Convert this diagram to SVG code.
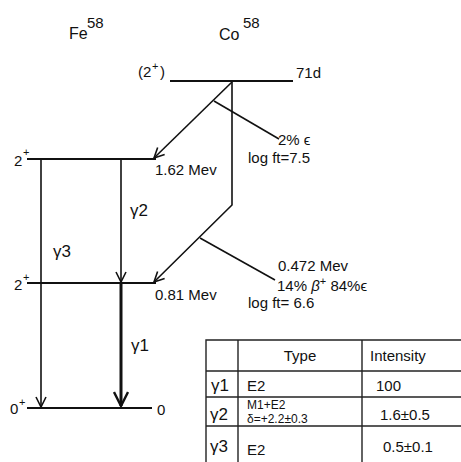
<svg xmlns="http://www.w3.org/2000/svg" width="461" height="462" viewBox="0 0 461 462">
<defs>
<style>
text{font-family:"Liberation Sans","DejaVu Sans",sans-serif;fill:#111;font-size:15px}
.sup{font-size:11px}
.big{font-size:17px}
.ln{stroke:#111;stroke-width:1.6;fill:none}
.lv{stroke:#111;stroke-width:2;fill:none}
.tb{stroke:#222;stroke-width:1.4;fill:none}
</style>
<marker id="ah" viewBox="0 0 12 12" refX="11" refY="6" markerWidth="12" markerHeight="12" markerUnits="userSpaceOnUse" orient="auto">
<path d="M1,1 L11,6 L1,11" fill="none" stroke="#111" stroke-width="1.6"/>
</marker>
<marker id="ahb" viewBox="0 0 16 16" refX="15" refY="8" markerWidth="16" markerHeight="16" markerUnits="userSpaceOnUse" orient="auto">
<path d="M1,1 L15,8 L1,15" fill="none" stroke="#111" stroke-width="2.4"/>
</marker>
</defs>
<rect width="461" height="462" fill="#fff"/>

<g id="title-fe"><text x="69" y="39" style="font-size:16px">Fe</text><text x="87" y="28" style="font-size:15px">58</text></g>
<g id="title-co"><text x="219" y="40" style="font-size:16px">Co</text><text x="243" y="28" style="font-size:15px">58</text></g>

<g id="co-level"><line class="lv" x1="170" y1="81" x2="293" y2="81"/><text x="138" y="77">(2</text><text x="152" y="70" class="sup">+</text><text x="160" y="77">)</text><text x="296" y="78">71d</text></g>
<g id="fe-1620"><line class="lv" x1="27" y1="159" x2="156" y2="159"/><text x="14" y="166">2</text><text x="23" y="156" class="sup">+</text><text x="155" y="175">1.62 Mev</text></g>
<g id="fe-810"><line class="lv" x1="27" y1="283" x2="156" y2="283"/><text x="14" y="290">2</text><text x="23" y="281" class="sup">+</text><text x="155" y="300">0.81 Mev</text></g>
<g id="fe-0"><line class="lv" x1="27" y1="408" x2="152" y2="408"/><text x="10" y="414">0</text><text x="19" y="406" class="sup">+</text><text x="157" y="415">0</text></g>

<g id="connectors">
<line class="ln" x1="232" y1="82" x2="154" y2="158" marker-end="url(#ah)"/>
<polyline class="ln" points="232,82 232,205 154,282" marker-end="url(#ah)"/>
<line class="ln" x1="214" y1="101" x2="279" y2="139"/>
<line class="ln" x1="200" y1="238" x2="275" y2="280"/>
<line class="ln" x1="41" y1="160" x2="41" y2="407" marker-end="url(#ah)"/>
<line class="ln" x1="121" y1="160" x2="121" y2="282" marker-end="url(#ah)"/>
<line stroke="#111" stroke-width="3" x1="121" y1="284" x2="121" y2="406" marker-end="url(#ahb)"/>
</g>

<g id="labels">
<text x="278" y="145">2% ϵ</text>
<text x="248" y="163">log  ft=7.5</text>
<text x="130" y="216" class="big">γ2</text>
<text x="53" y="257" class="big">γ3</text>
<text x="131" y="351" class="big">γ1</text>
<text x="278" y="271">0.472 Mev</text>
<text x="277" y="291">14% <tspan font-style="italic">β</tspan><tspan class="sup" dy="-6">+</tspan><tspan dy="6">  84%ϵ</tspan></text>
<text x="248" y="308">log  ft= 6.6</text>
</g>

<g id="table">
<polyline class="tb" points="461,340 206,340 206,462"/>
<line class="tb" x1="206" y1="371" x2="461" y2="371"/>
<line class="tb" x1="206" y1="397" x2="461" y2="397"/>
<line class="tb" x1="206" y1="426" x2="461" y2="426"/>
<line class="tb" x1="238" y1="340" x2="238" y2="462"/>
<line class="tb" x1="362" y1="340" x2="362" y2="462"/>
<text x="300" y="361" text-anchor="middle">Type</text>
<text x="370" y="361">Intensity</text>
<text x="211" y="391" class="big">γ1</text>
<text x="247" y="391">E2</text>
<text x="376" y="391">100</text>
<text x="210" y="420" class="big">γ2</text>
<text x="247" y="409" style="font-size:12px">M1+E2</text>
<text x="247" y="423" style="font-size:12px">δ=+2.2±0.3</text>
<text x="380" y="420">1.6±0.5</text>
<text x="210" y="452" class="big">γ3</text>
<text x="247" y="455">E2</text>
<text x="383" y="452">0.5±0.1</text>
</g>
</svg>
